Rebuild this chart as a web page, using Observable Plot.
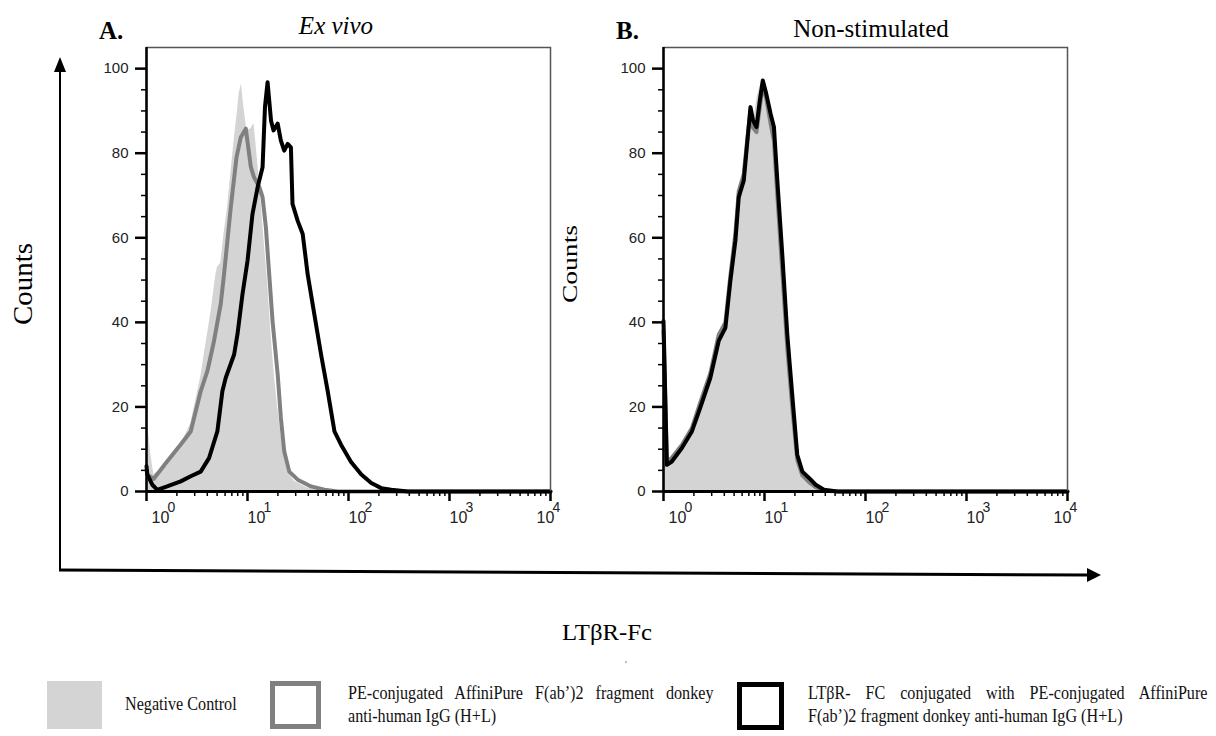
<!DOCTYPE html>
<html>
<head>
<meta charset="utf-8">
<script src="https://cdn.jsdelivr.net/npm/d3@7"></script>
<script src="https://cdn.jsdelivr.net/npm/@observablehq/plot@0.6"></script>
<style>
  body { margin: 0; background: #fff; }
  #root { position: relative; width: 1216px; height: 736px; background: #fff; overflow: hidden; }
  .panel { position: absolute; top: 40px; }
  .lg { position: absolute; font-family: 'Liberation Serif', 'Times New Roman', serif; font-size: 19px; line-height: 23px; color: #111; transform: scaleX(0.85); transform-origin: left top; white-space: nowrap; }
  .just { text-align: justify; text-align-last: justify; }
  .box { position: absolute; box-sizing: border-box; }
</style>
</head>
<body>
<div id="root">
  <div id="pa" class="panel" style="left:80px"></div>
  <div id="pb" class="panel" style="left:597px"></div>
  <svg id="overlay" width="1216" height="736" style="position:absolute;left:0;top:0;pointer-events:none" font-family="'Liberation Serif','Times New Roman',serif">
    <text x="99" y="39" font-size="25" font-weight="bold">A.</text>
    <text x="336" y="34" font-size="25" font-style="italic" text-anchor="middle">Ex vivo</text>
    <text x="616" y="39" font-size="25" font-weight="bold">B.</text>
    <text x="871" y="37" font-size="25" text-anchor="middle">Non-stimulated</text>
    <text transform="translate(32,284) rotate(-90)" font-size="28" text-anchor="middle" textLength="82" lengthAdjust="spacingAndGlyphs">Counts</text>
    <text transform="translate(577,264) rotate(-90)" font-size="22" text-anchor="middle" textLength="78" lengthAdjust="spacingAndGlyphs">Counts</text>
    <text x="607" y="640" font-size="24" text-anchor="middle" textLength="90" lengthAdjust="spacingAndGlyphs">LTβR-Fc</text>
    <text x="625" y="668" font-size="10" fill="#555">'</text>
    <line x1="60" y1="571" x2="60" y2="70" stroke="#000" stroke-width="2"/>
    <polygon points="60,57 54,72 66,72" fill="#000"/>
    <line x1="59" y1="570" x2="1088" y2="575" stroke="#000" stroke-width="3"/>
    <polygon points="1101,575 1087,568 1087,582" fill="#000"/>
  </svg>
  <div class="box" style="left:47px;top:681px;width:55px;height:48px;background:#d4d4d4"></div>
  <div class="box" style="left:270px;top:681px;width:51px;height:48px;border:5px solid #808080;background:#fff"></div>
  <div class="box" style="left:737px;top:682px;width:47px;height:48px;border:5px solid #000;background:#fff"></div>
  <div class="lg" style="left:125px;top:692px">Negative Control</div>
  <div class="lg just" style="left:348px;top:681px;width:430px">PE-conjugated AffiniPure F(ab’)2 fragment donkey</div>
  <div class="lg" style="left:348px;top:704px">anti-human IgG (H+L)</div>
  <div class="lg just" style="left:808px;top:681px;width:470px">LTβR- FC conjugated with PE-conjugated AffiniPure</div>
  <div class="lg" style="left:808px;top:704px">F(ab’)2 fragment donkey anti-human IgG (H+L)</div>
</div>
<script>
// ---------- Data (fluorescence intensity, counts) ----------
// Panel A: Ex vivo
const exVivoNegX   = [1.0, 1.02, 1.10, 1.18, 1.60, 2.18, 2.74, 3.44, 3.71, 4.32, 4.85, 5.03, 5.43, 5.86, 6.33, 6.83, 7.37, 7.96, 8.26, 8.71, 9.12, 9.85, 10.8, 11.6, 12.3, 13.1, 14.6, 15.8, 17.1, 18.4, 19.9, 22.3, 25.0, 29.1, 39.4, 57.8, 100, 10000];
const exVivoNegY   = [14, 16.6, 9, 4, 6, 11, 16, 27, 32, 42, 51, 53, 54, 61, 67, 75, 83, 90, 94, 96.4, 91.7, 85.4, 85.8, 87, 80.6, 73.5, 59.3, 49.8, 37.2, 27.7, 19.8, 10.3, 4.7, 2.4, 0.8, 0.2, 0, 0];
const exVivoIgGX   = [1.0, 1.02, 1.18, 1.60, 2.18, 2.74, 3.44, 4.01, 4.66, 5.43, 5.86, 6.83, 7.78, 8.59, 9.62, 10.8, 11.6, 13.1, 14.1, 15.2, 16.4, 17.7, 19.9, 21.4, 23.1, 25.9, 31.4, 42.6, 57.8, 78.3, 10000];
const exVivoIgGY   = [5, 4, 3, 7.1, 11.1, 14.2, 23.7, 28.5, 35.6, 44.3, 51.4, 67.2, 79, 83.8, 85.8, 76.7, 74.3, 72, 69.6, 62.5, 51.4, 40.3, 27.7, 17.4, 9.5, 4.7, 2.8, 1.2, 0.4, 0, 0];
const exVivoLtbrX  = [1.0, 1.02, 1.14, 1.28, 1.60, 2.18, 2.74, 3.44, 4.16, 5.03, 5.64, 6.09, 7.37, 7.96, 8.91, 10.0, 11.2, 12.6, 14.1, 14.9, 15.8, 17.1, 18.1, 19.9, 21.4, 23.1, 25.0, 26.9, 27.9, 31.4, 35.2, 39.4, 45.9, 53.5, 62.3, 72.6, 84.6, 106, 134, 168, 211, 265, 388, 10000];
const exVivoLtbrY  = [6, 4, 1.6, 0.4, 1.2, 2.4, 3.6, 4.7, 7.9, 14.2, 23.7, 26.9, 32.4, 37.2, 46.6, 54.5, 65.6, 72, 76.7, 91, 96.8, 87.7, 85.4, 87, 83, 80.6, 82.2, 81.4, 68, 64, 60.9, 51.4, 41.9, 32.4, 23.7, 14.2, 11, 7, 4, 2, 0.8, 0.4, 0, 0];
// Panel B: Non-stimulated
const nonStimNegX  = [1.0, 1.02, 1.05, 1.12, 1.46, 1.84, 2.31, 2.91, 3.66, 4.10, 4.59, 5.15, 5.56, 6.00, 6.73, 7.26, 7.83, 8.45, 9.48, 10.2, 11.5, 12.4, 13.4, 15.0, 16.8, 18.8, 21.1, 24.6, 30.9, 38.8, 48.8, 10000];
const nonStimNegY  = [50, 51, 20, 6.3, 9.5, 13.4, 19.8, 26.9, 37, 39.5, 51.4, 61, 72, 74.3, 84.6, 89.3, 87.7, 93.3, 97.6, 94.9, 88.5, 83.8, 71, 51.4, 35.6, 23, 7.9, 4, 1.6, 0.4, 0, 0];
const nonStimIgGX  = [1.0, 1.08, 1.21, 1.52, 1.91, 2.31, 2.91, 3.52, 4.10, 4.59, 5.15, 5.56, 6.23, 6.73, 7.26, 7.71, 8.33, 8.99, 9.62, 10.4, 11.5, 12.4, 13.4, 15.0, 16.8, 18.8, 21.1, 23.7, 27.6, 32.1, 38.8, 52.7, 10000];
const nonStimIgGY  = [38, 7, 8, 11, 15, 21, 28, 37, 40, 51, 61, 71, 75, 83, 90, 86, 85, 91, 96, 93, 87, 83, 70, 52, 34, 20, 7.5, 3.8, 2.2, 1, 0.2, 0, 0];
const nonStimLtbrX = [1.0, 1.08, 1.21, 1.52, 1.91, 2.31, 2.91, 3.52, 4.10, 4.59, 5.15, 5.56, 6.23, 6.73, 7.26, 7.71, 8.33, 8.99, 9.62, 10.4, 11.5, 12.4, 13.4, 15.0, 16.8, 18.8, 21.1, 23.7, 27.6, 32.1, 38.8, 52.7, 10000];
const nonStimLtbrY = [40.3, 6.3, 7.1, 10.3, 14.2, 19.8, 26.9, 35.6, 38.7, 49.8, 59.3, 69.6, 73.5, 82.2, 90.9, 87.7, 86.2, 92.5, 97.2, 94.1, 89.3, 86.2, 73.5, 56.1, 37.2, 23, 8.7, 4.7, 3.2, 1.6, 0.4, 0, 0];

// Tick values and labels
const yMajorTicks = [0, 20, 40, 60, 80, 100];
const yMinorTicks = [5, 10, 15, 25, 30, 35, 45, 50, 55, 65, 70, 75, 85, 90, 95];
const xMajorTicks = [1, 10, 100, 1000, 10000];
const xMinorTicks = [1, 10, 100, 1000].flatMap(d => [2, 3, 4, 5, 6, 7, 8, 9].map(m => m * d));
const xTickBase = ["10", "10", "10", "10", "10"];
const xTickExp  = ["0", "1", "2", "3", "4"];

const zip = (xs, ys) => xs.map((x, i) => ({x, y: ys[i]}));
const xLabels = xMajorTicks.map((v, i) => ({v, base: xTickBase[i], exp: xTickExp[i]}));

const axisFont = "'Liberation Sans Narrow','Liberation Sans',Arial,sans-serif";

function panel(neg, igg, ltbr) {
  const labelMarks = [
    {f: d => d.v === 1, dx: 14},
    {f: d => d.v > 1 && d.v < 10000, dx: 9},
    {f: d => d.v === 10000, dx: -5}
  ].flatMap(g => [
    Plot.text(xLabels, {filter: g.f, x: "v", text: "base", frameAnchor: "bottom", dy: 31, dx: g.dx, fontSize: 16, fill: "#222", fontFamily: axisFont}),
    Plot.text(xLabels, {filter: g.f, x: "v", text: "exp", frameAnchor: "bottom", dy: 20, dx: g.dx + 11, fontSize: 14, fill: "#222", fontFamily: axisFont})
  ]);
  return Plot.plot({
    width: 480,
    height: 500,
    marginLeft: 66,
    marginRight: 10,
    marginTop: 7,
    marginBottom: 49,
    x: {type: "log", domain: [1, 10000]},
    y: {domain: [0, 105]},
    style: {fontFamily: axisFont, fontSize: "15px", color: "#222", background: "transparent", overflow: "visible"},
    marks: [
      Plot.areaY(neg, {x: "x", y: "y", fill: "#d4d4d4", curve: "linear"}),
      Plot.line(igg, {x: "x", y: "y", stroke: "#808080", strokeWidth: 4, strokeLinejoin: "round"}),
      Plot.line(ltbr, {x: "x", y: "y", stroke: "#000", strokeWidth: 4, strokeLinejoin: "round"}),
      Plot.frame({stroke: "#555", strokeWidth: 1.5}),
      Plot.ruleX([1], {stroke: "#000", strokeWidth: 2.5}),
      Plot.ruleY([0], {stroke: "#000", strokeWidth: 3}),
      Plot.axisY({ticks: yMajorTicks, tickSize: 11, tickPadding: 7, strokeWidth: 2.5, stroke: "#000", label: null, fontSize: 15, fill: "#222"}),
      Plot.axisY({ticks: yMinorTicks, tickSize: 5, strokeWidth: 1.5, stroke: "#000", tickFormat: () => "", label: null}),
      Plot.axisX({ticks: xMajorTicks, tickSize: 10, strokeWidth: 2.5, stroke: "#000", tickFormat: () => "", label: null}),
      Plot.axisX({ticks: xMinorTicks, tickSize: 5, strokeWidth: 1.5, stroke: "#000", tickFormat: () => "", label: null}),
      ...labelMarks
    ]
  });
}

document.getElementById("pa").append(panel(zip(exVivoNegX, exVivoNegY), zip(exVivoIgGX, exVivoIgGY), zip(exVivoLtbrX, exVivoLtbrY)));
document.getElementById("pb").append(panel(zip(nonStimNegX, nonStimNegY), zip(nonStimIgGX, nonStimIgGY), zip(nonStimLtbrX, nonStimLtbrY)));
</script>
</body>
</html>
